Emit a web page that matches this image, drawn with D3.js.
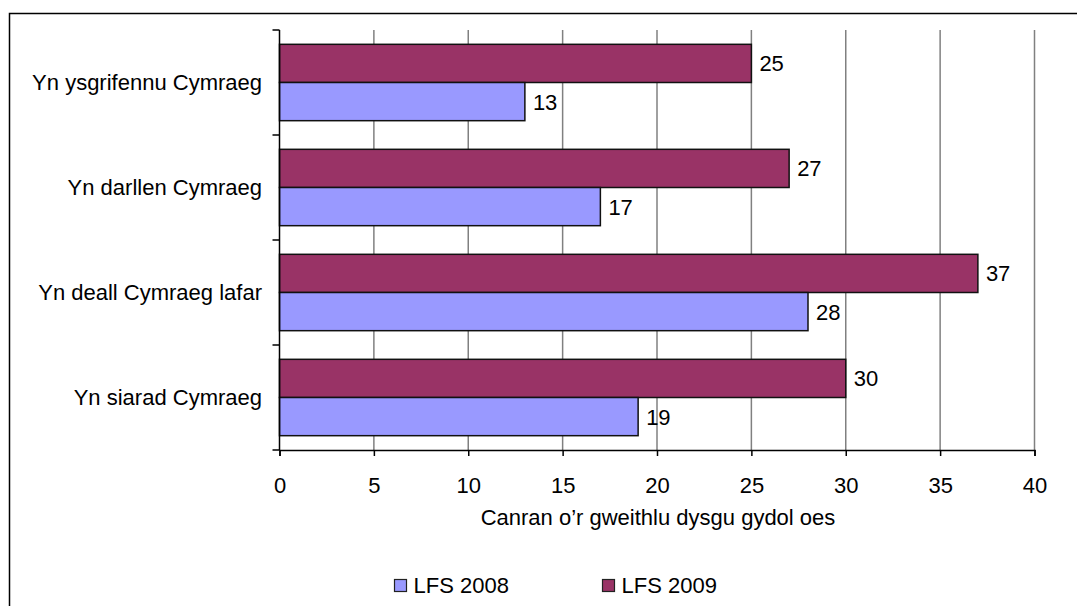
<!DOCTYPE html>
<html lang="cy">
<head>
<meta charset="utf-8">
<title>Canran o'r gweithlu dysgu gydol oes</title>
<script src="https://d3js.org/d3.v7.min.js"></script>
<style>
  body { margin: 0; background: #fff; }
  svg { display: block; font-family: "Liberation Sans", Arial, sans-serif; }
</style>
</head>
<body>
<script>
// data
var categories = ["Yn ysgrifennu Cymraeg", "Yn darllen Cymraeg", "Yn deall Cymraeg lafar", "Yn siarad Cymraeg"];
var seriesNames = ["LFS 2009", "LFS 2008"];
var lfs2009 = [25, 27, 37, 30];
var lfs2008 = [13, 17, 28, 19];
var xTicks = [0, 5, 10, 15, 20, 25, 30, 35, 40];
var legendOrder = ["LFS 2008", "LFS 2009"];
var colours = { "LFS 2008": "#9999ff", "LFS 2009": "#993366" };

var W = 1077, H = 606;
var plotLeft = 279.5, plotRight = 1034.5, plotTop = 30, plotBottom = 450;
var fs = "22px";

var svg = d3.select("body").append("svg")
    .attr("width", W).attr("height", H);

// outer frame
svg.append("rect")
    .attr("x", 9.5).attr("y", 13.5)
    .attr("width", W + 10).attr("height", H + 10)
    .attr("fill", "none").attr("stroke", "#000").attr("stroke-width", 1.5);

var x = d3.scaleLinear().domain([0, 40]).range([plotLeft, plotRight]);
var y = d3.scaleBand().domain(categories).range([plotTop, plotBottom]);
var inner = d3.scaleBand().domain(seriesNames).range([0, y.bandwidth()]).paddingOuter(0.375).paddingInner(0);

// gridlines
svg.append("g").selectAll("line")
    .data(xTicks.slice(1))
    .enter().append("line")
    .attr("x1", function (d) { return x(d); }).attr("x2", function (d) { return x(d); })
    .attr("y1", plotTop).attr("y2", plotBottom)
    .attr("stroke", "#808080").attr("stroke-width", 1.5);

// bars
var rows = [];
categories.forEach(function (c, i) {
  rows.push({ cat: c, s: "LFS 2009", v: lfs2009[i] });
  rows.push({ cat: c, s: "LFS 2008", v: lfs2008[i] });
});

svg.append("g").selectAll("rect")
    .data(rows)
    .enter().append("rect")
    .attr("x", x(0))
    .attr("y", function (d) { return y(d.cat) + inner(d.s); })
    .attr("width", function (d) { return x(d.v) - x(0); })
    .attr("height", inner.bandwidth())
    .attr("fill", function (d) { return colours[d.s]; })
    .attr("stroke", "#111").attr("stroke-width", 1.5);

svg.append("g").selectAll("text")
    .data(rows)
    .enter().append("text")
    .attr("x", function (d) { return x(d.v) + 8; })
    .attr("y", function (d) { return y(d.cat) + inner(d.s) + inner.bandwidth() / 2; })
    .attr("dy", "0.36em")
    .style("font-size", fs)
    .attr("fill", "#000")
    .text(function (d) { return d.v; });

// x axis
var xAxis = svg.append("g")
    .attr("transform", "translate(0," + plotBottom + ")")
    .call(d3.axisBottom(x).tickValues(xTicks).tickSize(6).tickPadding(21));
xAxis.select(".domain").attr("stroke", "#000").attr("stroke-width", 1.5);
xAxis.selectAll(".tick line").attr("stroke", "#000").attr("stroke-width", 1.5);
xAxis.selectAll("text").style("font-size", fs).style("font-family", "Liberation Sans, Arial, sans-serif").attr("fill", "#000");

// y axis (ticks at band edges)
var yEdges = categories.map(function (c) { return y(c); }).concat([plotBottom]);
svg.append("line")
    .attr("x1", plotLeft).attr("x2", plotLeft).attr("y1", plotTop).attr("y2", plotBottom)
    .attr("stroke", "#000").attr("stroke-width", 1.5);
svg.append("g").selectAll("line")
    .data(yEdges)
    .enter().append("line")
    .attr("x1", plotLeft - 7).attr("x2", plotLeft)
    .attr("y1", function (d) { return d; }).attr("y2", function (d) { return d; })
    .attr("stroke", "#000").attr("stroke-width", 1.5);

svg.append("g").selectAll("text")
    .data(categories)
    .enter().append("text")
    .attr("x", 262)
    .attr("y", function (d) { return y(d) + y.bandwidth() / 2; })
    .attr("dy", "0.36em")
    .attr("text-anchor", "end")
    .style("font-size", fs)
    .text(function (d) { return d; });

// axis title
svg.append("text")
    .attr("x", 658).attr("y", 525)
    .attr("text-anchor", "middle")
    .style("font-size", fs)
    .text("Canran o\u2019r gweithlu dysgu gydol oes");

// legend
var legend = svg.append("g").selectAll("g")
    .data(legendOrder)
    .enter().append("g")
    .attr("transform", function (d, i) { return "translate(" + (394.5 + i * 208) + ",579.5)"; });
legend.append("rect")
    .attr("width", 12).attr("height", 12)
    .attr("fill", function (d) { return colours[d]; })
    .attr("stroke", "#222").attr("stroke-width", 1.2);
legend.append("text")
    .attr("x", 19).attr("y", 6).attr("dy", "0.36em")
    .style("font-size", fs)
    .text(function (d) { return d; });
</script>
</body>
</html>
